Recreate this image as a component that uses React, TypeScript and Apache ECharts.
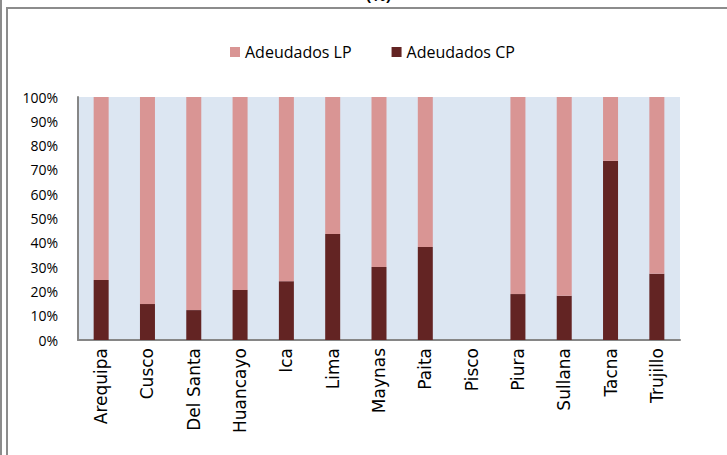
import React, { useEffect, useRef } from "react";
import * as echarts from "echarts";

const categories = ["Arequipa", "Cusco", "Del Santa", "Huancayo", "Ica", "Lima", "Maynas", "Paita", "Pisco", "Piura", "Sullana", "Tacna", "Trujillo"];
const adeudadosCP = [24.7, 14.8, 12.3, 20.6, 24.2, 43.6, 30.0, 38.3, null, 18.9, 18.2, 73.7, 27.3];
const adeudadosLP = [75.3, 85.2, 87.7, 79.4, 75.8, 56.4, 70.0, 61.7, null, 81.1, 81.8, 26.3, 72.7];
const yTicks = [0, 10, 20, 30, 40, 50, 60, 70, 80, 90, 100];

export default function App() {
  const ref = useRef<HTMLDivElement>(null);
  useEffect(() => {
    if (!ref.current) return;
    const chart = echarts.init(ref.current, null, { renderer: "svg" });
    chart.setOption({
      animation: false,
      backgroundColor: "#ffffff",
      legend: {
        data: ["Adeudados LP", "Adeudados CP"],
        left: 225,
        top: 38,
        itemWidth: 10,
        itemHeight: 10,
        itemGap: 40,
        icon: "rect",
        textStyle: { fontFamily: "Open Sans", fontSize: 16, color: "#000", lineHeight: 18 },
      },
      grid: {
        left: 78,
        top: 97,
        width: 602,
        height: 243,
        show: true,
        backgroundColor: "#DCE6F2",
        borderWidth: 0,
        containLabel: false,
      },
      xAxis: {
        type: "category",
        data: categories,
        axisLine: { show: true, lineStyle: { color: "#868686", width: 2 } },
        axisTick: { show: false },
        axisLabel: {
          rotate: 90,
          interval: 0,
          margin: 8,
          color: "#000",
          fontFamily: "DejaVu Sans",
          fontSize: 17,
        },
      },
      yAxis: {
        type: "value",
        min: yTicks[0],
        max: yTicks[yTicks.length - 1],
        interval: 10,
        axisLine: { show: true, lineStyle: { color: "#868686", width: 2 } },
        axisTick: { show: false },
        splitLine: { show: false },
        axisLabel: {
          formatter: "{value}%",
          margin: 20,
          color: "#000",
          fontFamily: "Open Sans",
          fontSize: 14,
        },
      },
      series: [
        {
          name: "Adeudados CP",
          type: "bar",
          stack: "total",
          data: adeudadosCP,
          barWidth: 15,
          itemStyle: { color: "#632423" },
        },
        {
          name: "Adeudados LP",
          type: "bar",
          stack: "total",
          data: adeudadosLP,
          barWidth: 15,
          itemStyle: { color: "#D99594" },
        },
      ],
      graphic: [
        {
          type: "rect",
          shape: { x: 7, y: 8, width: 740, height: 470 },
          style: { fill: "none", stroke: "#8c8c8c", lineWidth: 2 },
          silent: true,
        },
        {
          type: "line",
          shape: { x1: 1, y1: 0, x2: 1, y2: 455 },
          style: { stroke: "#8c8c8c", lineWidth: 2 },
          silent: true,
        },
        {
          type: "text",
          left: 366,
          top: -13,
          style: { text: "(%)", font: "bold 16px 'Open Sans'", fill: "#000" },
          silent: true,
        },
      ],
    });
    return () => chart.dispose();
  }, []);
  return (
    <div
      ref={ref}
      style={{ position: "fixed", left: 0, top: 0, width: 727, height: 455 }}
    />
  );
}
